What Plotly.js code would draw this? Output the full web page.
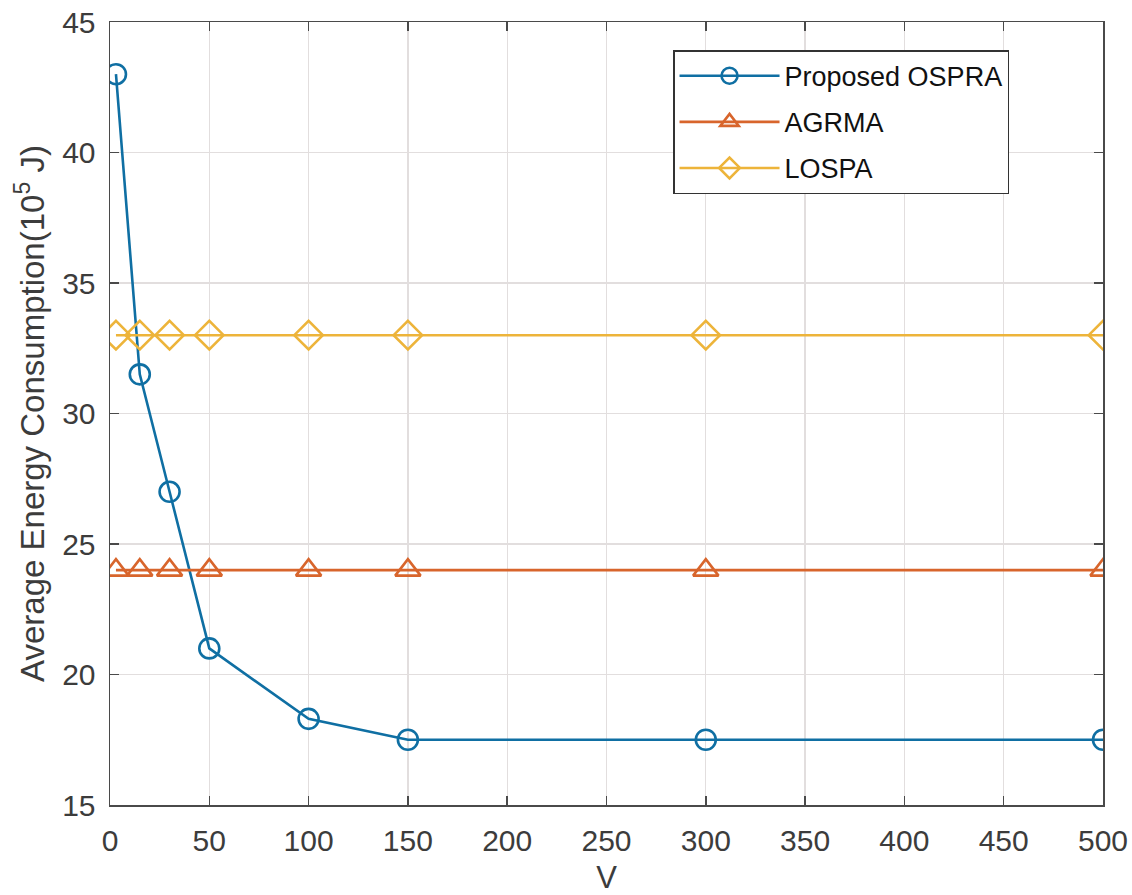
<!DOCTYPE html>
<html>
<head>
<meta charset="utf-8">
<script src="https://cdn.plot.ly/plotly-3.0.1.min.js"></script>
<style>
  html, body { margin: 0; padding: 0; background: #fff; }
  #chart { width: 1132px; height: 895px; }
</style>
</head>
<body>
<div id="chart"></div>
<script>
const vValues = [3, 15, 30, 50, 100, 150, 300, 500];
const osprA = [43, 31.5, 27, 21, 18.3, 17.5, 17.5, 17.5];
const agrma = [24, 24, 24, 24, 24, 24, 24, 24];
const lospa = [33, 33, 33, 33, 33, 33, 33, 33];
const seriesNames = ['Proposed OSPRA', 'AGRMA', 'LOSPA'];
const xTicks = [0, 50, 100, 150, 200, 250, 300, 350, 400, 450, 500];
const yTicks = [15, 20, 25, 30, 35, 40, 45];

const colors = ['#0f6fa3', '#d8652c', '#edb43a'];
const symbols = ['circle-open', 'triangle-up-open', 'diamond-open'];
const sizes = [20, 22, 22];
const ys = [osprA, agrma, lospa];
const FONT = 'Liberation Sans, Arial, Helvetica, sans-serif';

const traces = ys.map((y, i) => ({
  x: vValues,
  y: y,
  name: seriesNames[i],
  legendgroup: 'g' + i,
  type: 'scatter',
  mode: 'lines+markers',
  line: { color: colors[i], width: 2.6 },
  marker: { symbol: symbols[i], size: sizes[i], color: colors[i], line: { color: colors[i], width: 2.6 } }
}));

const axisCommon = {
  showline: true,
  linecolor: '#4a4a4a',
  linewidth: 1.5,
  mirror: 'ticks',
  ticks: 'inside',
  ticklen: 9,
  tickwidth: 1.5,
  tickcolor: '#4a4a4a',
  showgrid: true,
  gridcolor: '#e2dede',
  gridwidth: 1.2,
  zeroline: false,
  tickfont: { family: FONT, size: 30, color: '#3c3c3c' },
  automargin: false
};

const layout = {
  width: 1132,
  height: 895,
  margin: { l: 110, r: 29, t: 22, b: 90 },
  paper_bgcolor: '#fff',
  plot_bgcolor: '#fff',
  font: { family: FONT, color: '#3c3c3c' },
  showlegend: true,
  legend: {
    x: 0.567, y: 0.964, xanchor: 'left', yanchor: 'top',
    bgcolor: '#fff', bordercolor: '#333', borderwidth: 1.5,
    font: { family: FONT, size: 27, color: '#111' },
    itemwidth: 100,
    tracegroupgap: 8
  },
  xaxis: Object.assign({}, axisCommon, {
    range: [0, 500],
    tickvals: xTicks,
    ticktext: xTicks.map(String),
    ticklabelstandoff: 8,
    title: { text: 'V', font: { family: FONT, size: 31, color: '#3c3c3c' }, standoff: 14 }
  }),
  yaxis: Object.assign({}, axisCommon, {
    range: [15, 45],
    tickvals: yTicks,
    ticktext: yTicks.map(String),
    ticklabelstandoff: 7,
    title: { text: 'Average Energy Consumption(10<sup>5</sup> J)', font: { family: FONT, size: 33, color: '#3c3c3c' }, standoff: 7 }
  })
};

Plotly.newPlot('chart', traces, layout, { displayModeBar: false, staticPlot: true });
</script>
</body>
</html>
